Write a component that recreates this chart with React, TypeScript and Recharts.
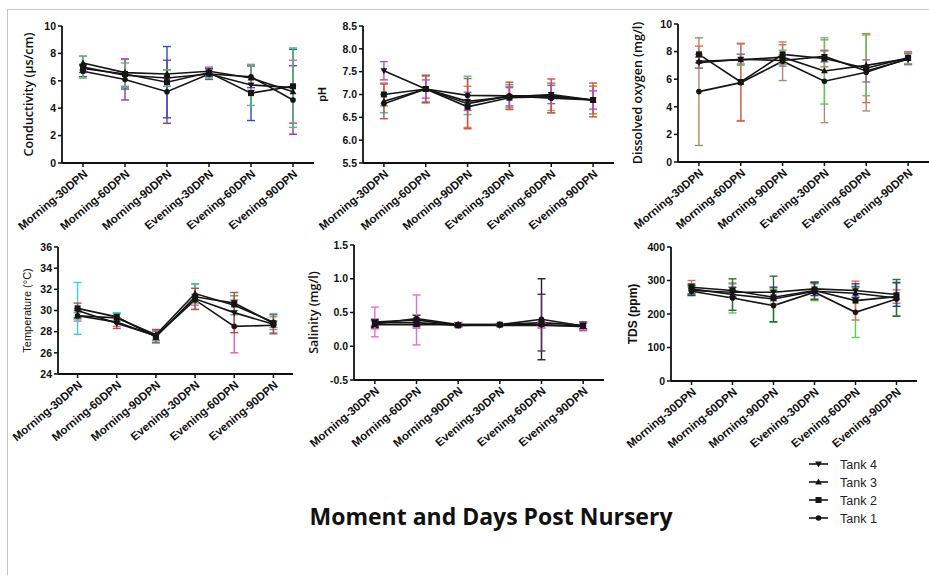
import React from "react";
import { LineChart, Line, XAxis, YAxis, ErrorBar } from "recharts";

const categories = [
  "Morning-30DPN",
  "Morning-60DPN",
  "Morning-90DPN",
  "Evening-30DPN",
  "Evening-60DPN",
  "Evening-90DPN",
];

const tankNames = ["Tank 1", "Tank 2", "Tank 3", "Tank 4"];

// conductivity (µs/cm), mean and SD per tank
const cond1 = [6.7, 6.1, 5.2, 6.5, 6.3, 4.6];
const cond2 = [6.9, 6.5, 5.9, 6.6, 5.1, 5.6];
const cond3 = [7.3, 6.6, 6.5, 6.7, 6.2, 5.2];
const cond4 = [7.0, 6.4, 6.2, 6.5, 5.7, 5.5];
const cond1Sd = [0.4, 1.5, 2.3, 0.4, 0.8, 2.5];
const cond2Sd = [0.3, 1.1, 2.6, 0.3, 2.0, 2.7];
const cond3Sd = [0.5, 1.0, 0.3, 0.3, 0.9, 2.3];
const cond4Sd = [0.8, 0.9, 0.6, 0.3, 1.5, 2.9];

// pH
const ph1 = [6.8, 7.12, 6.98, 6.97, 6.92, 6.88];
const ph2 = [7.0, 7.12, 6.73, 6.93, 6.95, 6.88];
const ph3 = [6.85, 7.12, 6.8, 6.97, 6.97, 6.88];
const ph4 = [7.52, 7.12, 6.85, 6.95, 7.0, 6.88];
const ph1Sd = [0.2, 0.3, 0.42, 0.25, 0.32, 0.3];
const ph2Sd = [0.25, 0.28, 0.45, 0.25, 0.3, 0.3];
const ph3Sd = [0.38, 0.3, 0.55, 0.3, 0.37, 0.37];
const ph4Sd = [0.2, 0.2, 0.2, 0.2, 0.2, 0.2];

// dissolved oxygen (mg/l)
const do1 = [5.1, 5.75, 7.3, 5.85, 6.5, 7.5];
const do2 = [7.8, 5.8, 7.8, 7.5, 6.8, 7.55];
const do3 = [7.3, 7.4, 7.6, 6.6, 7.0, 7.5];
const do4 = [7.2, 7.45, 7.35, 7.65, 6.6, 7.45];
const do1Sd = [3.9, 2.8, 1.4, 3.0, 2.8, 0.4];
const do2Sd = [0.6, 2.8, 0.7, 0.6, 2.5, 0.45];
const do3Sd = [0.5, 0.4, 0.5, 2.4, 2.2, 0.4];
const do4Sd = [0.4, 0.35, 0.4, 0.4, 0.8, 0.4];

// temperature (°C)
const temp1 = [29.5, 28.9, 27.6, 31.0, 28.5, 28.6];
const temp2 = [30.2, 29.4, 27.5, 31.3, 30.7, 28.8];
const temp3 = [29.5, 29.3, 27.7, 31.6, 30.5, 28.9];
const temp4 = [30.0, 28.8, 27.6, 31.1, 29.8, 28.7];
const temp1Sd = [0.5, 0.4, 0.4, 0.5, 2.5, 0.4];
const temp2Sd = [2.45, 0.4, 0.6, 1.2, 0.7, 0.9];
const temp3Sd = [0.3, 0.4, 0.5, 0.9, 0.9, 0.5];
const temp4Sd = [0.7, 0.5, 0.6, 1.0, 1.9, 0.9];

// salinity (mg/l)
const sal1 = [0.33, 0.41, 0.32, 0.32, 0.4, 0.3];
const sal2 = [0.35, 0.35, 0.31, 0.32, 0.35, 0.31];
const sal3 = [0.32, 0.32, 0.32, 0.32, 0.32, 0.29];
const sal4 = [0.36, 0.39, 0.31, 0.31, 0.31, 0.3];
const sal1Sd = [0.05, 0.05, 0.03, 0.01, 0.6, 0.05];
const sal2Sd = [0.05, 0.05, 0.03, 0.01, 0.42, 0.05];
const sal3Sd = [0.06, 0.05, 0.03, 0.01, 0.05, 0.06];
const sal4Sd = [0.22, 0.37, 0.03, 0.01, 0.04, 0.05];

// TDS (ppm)
const tds1 = [268, 248, 225, 265, 205, 245];
const tds2 = [280, 270, 250, 270, 240, 252];
const tds3 = [275, 258, 245, 268, 262, 248];
const tds4 = [270, 265, 265, 275, 270, 258];
const tds1Sd = [12, 45, 50, 25, 75, 50];
const tds2Sd = [20, 20, 20, 25, 58, 20];
const tds3Sd = [15, 47, 68, 25, 20, 55];
const tds4Sd = [15, 15, 15, 20, 20, 35];

type Shape = "circle" | "square" | "up" | "down";
const shapes: Shape[] = ["circle", "square", "up", "down"];

const AW = 60;
const MT = 8;
const MR = 12;
const MB = 90;
const yTickFont = { fontSize: 10.5, fontWeight: 700, fill: "#111", fontFamily: "Liberation Sans, Arial" };
const xTickFont = { ...yTickFont, fontSize: 11.5 };

function Marker({ shape, cx, cy }: { shape: Shape; cx: number; cy: number }) {
  const c = "#151515";
  if (shape === "circle") return <circle cx={cx} cy={cy} r={2.8} fill={c} />;
  if (shape === "square") return <rect x={cx - 3} y={cy - 3} width={6} height={6} fill={c} />;
  if (shape === "up")
    return <path d={`M${cx},${cy - 3.6}L${cx + 3.4},${cy + 2.4}L${cx - 3.4},${cy + 2.4}Z`} fill={c} />;
  return <path d={`M${cx},${cy + 3.6}L${cx + 3.4},${cy - 2.4}L${cx - 3.4},${cy - 2.4}Z`} fill={c} />;
}

const dotFor = (shape: Shape) => (p: any) => {
  const key = `${shape}-${p.index}`;
  if (p.cx == null || p.cy == null) return <g key={key} />;
  return (
    <g key={key}>
      <Marker shape={shape} cx={p.cx} cy={p.cy} />
    </g>
  );
};

type PanelProps = {
  left: number;
  top: number;
  w: number;
  h: number;
  labelX: number;
  label: string;
  labelStyle: React.CSSProperties;
  domain: [number, number];
  ticks: number[];
  fmt?: (v: number) => string;
  series: number[][];
  sds: number[][];
  errColors: string[];
};

function Panel(props: PanelProps) {
  const { left, top, w, h, labelX, label, labelStyle, domain, ticks, fmt, series, sds, errColors } = props;
  const data = categories.map((name, i) => {
    const row: Record<string, string | number> = { name };
    series.forEach((s, k) => {
      row[`t${k}`] = s[i];
      row[`e${k}`] = sds[k][i];
    });
    return row;
  });
  const pad = w / 12;
  return (
    <div style={{ position: "absolute", left: left - AW, top: top - MT }}>
      <LineChart
        width={AW + w + MR}
        height={MT + h + MB}
        data={data}
        margin={{ top: MT, right: MR, left: 0, bottom: 0 }}
      >
        <XAxis
          dataKey="name"
          height={MB}
          interval={0}
          padding={{ left: pad, right: pad }}
          axisLine={{ stroke: "#111", strokeWidth: 1.8 }}
          tickLine={{ stroke: "#111", strokeWidth: 1.5 }}
          tickSize={4}
          angle={-40}
          textAnchor="end"
          tick={xTickFont}
        />
        <YAxis
          type="number"
          width={AW}
          domain={domain}
          ticks={ticks}
          interval={0}
          allowDataOverflow
          tickFormatter={fmt}
          axisLine={{ stroke: "#111", strokeWidth: 1.8 }}
          tickLine={{ stroke: "#111", strokeWidth: 1.5 }}
          tickSize={4}
          tick={yTickFont}
          label={{
            value: label,
            angle: -90,
            position: "center",
            dx: labelX - (left - AW / 2),
            style: labelStyle,
          }}
        />
        {series.map((_, k) => (
          <Line
            key={k}
            dataKey={`t${k}`}
            type="linear"
            stroke="#151515"
            strokeWidth={1.6}
            dot={dotFor(shapes[k])}
            activeDot={false}
            isAnimationActive={false}
          >
            <ErrorBar
              dataKey={`e${k}`}
              direction="y"
              width={4}
              stroke={errColors[k]}
              strokeWidth={1.4}
              isAnimationActive={false}
            />
          </Line>
        ))}
      </LineChart>
    </div>
  );
}

const openLabel: React.CSSProperties = {
  fontFamily: "Open Sans",
  fontWeight: 600,
  fontSize: 12.5,
  fill: "#111",
};
const arialLabel: React.CSSProperties = {
  fontFamily: "Liberation Sans, Arial",
  fontWeight: 700,
  fontSize: 11,
  fill: "#111",
};
const one = (v: number) => v.toFixed(1);

export default function App() {
  return (
    <div
      style={{
        position: "absolute",
        left: 0,
        top: 0,
        width: 929,
        height: 575,
        overflow: "hidden",
        background: "#fff",
      }}
    >
      <div style={{ position: "absolute", left: 7, top: 9, width: 922, height: 566, borderTop: "1.5px solid #c4c4c4", borderLeft: "1.5px solid #c4c4c4" }} />
      <Panel
        left={62}
        top={26}
        w={252}
        h={137}
        labelX={29}
        label="Conductivity (µs/cm)"
        labelStyle={openLabel}
        domain={[0, 10]}
        ticks={[0, 2, 4, 6, 8, 10]}
        series={[cond1, cond2, cond3, cond4]}
        sds={[cond1Sd, cond2Sd, cond3Sd, cond4Sd]}
        errColors={["#8b3a9e", "#2e4fc4", "#d25ac8", "#4fc25a"]}
      />
      <Panel
        left={363}
        top={26}
        w={251}
        h={137}
        labelX={322}
        label="pH"
        labelStyle={arialLabel}
        domain={[5.5, 8.5]}
        ticks={[5.5, 6, 6.5, 7, 7.5, 8, 8.5]}
        fmt={one}
        series={[ph1, ph2, ph3, ph4]}
        sds={[ph1Sd, ph2Sd, ph3Sd, ph4Sd]}
        errColors={["#2ec4b4", "#c98a55", "#d84a3c", "#b44cc8"]}
      />
      <Panel
        left={678}
        top={24}
        w={251}
        h={138}
        labelX={638}
        label="Dissolved oxygen (mg/l)"
        labelStyle={openLabel}
        domain={[0, 10]}
        ticks={[0, 2, 4, 6, 8, 10]}
        series={[do1, do2, do3, do4]}
        sds={[do1Sd, do2Sd, do3Sd, do4Sd]}
        errColors={["#b08a6e", "#e06a58", "#5cc85c", "#9a6b8c"]}
      />
      <Panel
        left={58}
        top={247}
        w={235}
        h={127}
        labelX={27}
        label="Temperature (°C)"
        labelStyle={{ ...arialLabel, fontWeight: 400 }}
        domain={[24, 36]}
        ticks={[24, 26, 28, 30, 32, 34, 36]}
        series={[temp1, temp2, temp3, temp4]}
        sds={[temp1Sd, temp2Sd, temp3Sd, temp4Sd]}
        errColors={["#e060b0", "#3cd0d0", "#4cb87a", "#b8503c"]}
      />
      <Panel
        left={354}
        top={245}
        w={250}
        h={135}
        labelX={314}
        label="Salinity (mg/l)"
        labelStyle={openLabel}
        domain={[-0.5, 1.5]}
        ticks={[-0.5, 0, 0.5, 1, 1.5]}
        fmt={one}
        series={[sal1, sal2, sal3, sal4]}
        sds={[sal1Sd, sal2Sd, sal3Sd, sal4Sd]}
        errColors={["#222222", "#5a2a5a", "#c040b8", "#e070d0"]}
      />
      <Panel
        left={671}
        top={247}
        w={246}
        h={134}
        labelX={633}
        label="TDS (ppm)"
        labelStyle={{ ...arialLabel, fontSize: 12 }}
        domain={[0, 400]}
        ticks={[0, 100, 200, 300, 400]}
        series={[tds1, tds2, tds3, tds4]}
        sds={[tds1Sd, tds2Sd, tds3Sd, tds4Sd]}
        errColors={["#52d052", "#e06a58", "#2e6b3a", "#2a3a8a"]}
      />
      <svg style={{ position: "absolute", left: 0, top: 0 }} width={929} height={575}>
        <text
          x={491}
          y={525}
          textAnchor="middle"
          fontFamily="Open Sans"
          fontWeight={700}
          fontSize={23}
          fill="#111"
        >
          Moment and Days Post Nursery
        </text>
        {[3, 2, 1, 0].map((k, row) => {
          const y = 464 + row * 18;
          return (
            <g key={k}>
              <line x1={809} x2={828} y1={y} y2={y} stroke="#151515" strokeWidth={1.6} />
              <Marker shape={shapes[k]} cx={818.5} cy={y} />
              <text
                x={840}
                y={y + 4.5}
                fontFamily="Liberation Sans, Arial"
                fontSize={12.5}
                fill="#222"
              >
                {tankNames[k]}
              </text>
            </g>
          );
        })}
      </svg>
    </div>
  );
}
